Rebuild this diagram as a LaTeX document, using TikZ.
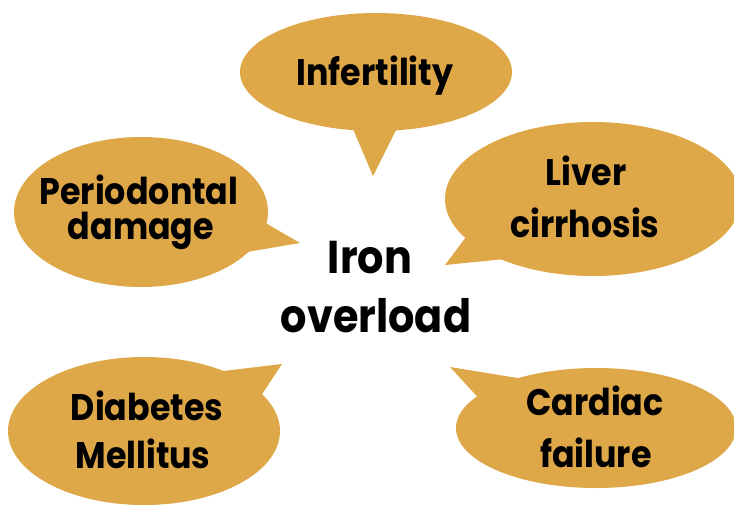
\documentclass[tikz,border=0pt]{standalone}
\usepackage{fontspec}
\newfontfamily\bubfont[FakeStretch=0.9]{Poppins Bold}
\definecolor{gold}{RGB}{222,168,72}
\tikzset{
  bub/.style={fill=gold, draw=none},
  lbl/.style={anchor=base, inner sep=0pt, text=black, text height=0.7em, text depth=0.2em, font=\bubfont\fontsize{37}{37}\selectfont},
  big/.style={anchor=base, inner sep=0pt, text=black, text height=0.7em, text depth=0.2em, font=\bubfont\fontsize{46}{46}\selectfont},
}
\begin{document}
\begin{tikzpicture}[x=1pt,y=-1pt]
\useasboundingbox (0,0) rectangle (734,507);
% Infertility
\fill[bub] (376,72) ellipse [x radius=136, y radius=59];
\fill[bub] (350,122) -- (373,176) -- (400,122) -- cycle;
% Periodontal damage
\fill[bub] (141,212) ellipse [x radius=127, y radius=75];
\fill[bub] (250,214) -- (300,243) -- (235,254) -- cycle;
% Liver cirrhosis
\fill[bub] (593,199) ellipse [x radius=148, y radius=77];
\fill[bub] (475,225) -- (445,265) -- (515,258) -- cycle;
% Diabetes Mellitus
\fill[bub] (144,431) ellipse [x radius=136, y radius=74];
\fill[bub] (215,372) -- (282,364) -- (255,405) -- cycle;
% Cardiac failure
\fill[bub] (596,428) ellipse [x radius=140, y radius=60];
\fill[bub] (530,380) -- (450,367) -- (485,405) -- cycle;
% texts
\node[lbl] (infert) at (375,85) {Infertility};
\node[lbl, text depth=0pt] (perio1) at (139,204) {Periodontal};
\node[lbl, text height=0.66em] (perio2) at (141,239) {damage};
\node[lbl] (liver1) at (586,185) {Liver};
\node[lbl] (liver2) at (585,237) {cirrhosis};
\node[lbl] (diab1) at (147,420) {Diabetes};
\node[lbl] (diab2) at (143,468) {Mellitus};
\node[lbl] (card1) at (595,415) {Cardiac};
\node[lbl] (card2) at (596,467) {failure};
\node[big] (iron1) at (370,273) {Iron};
\node[big] (iron2) at (376,332) {overload};
\end{tikzpicture}
\end{document}
